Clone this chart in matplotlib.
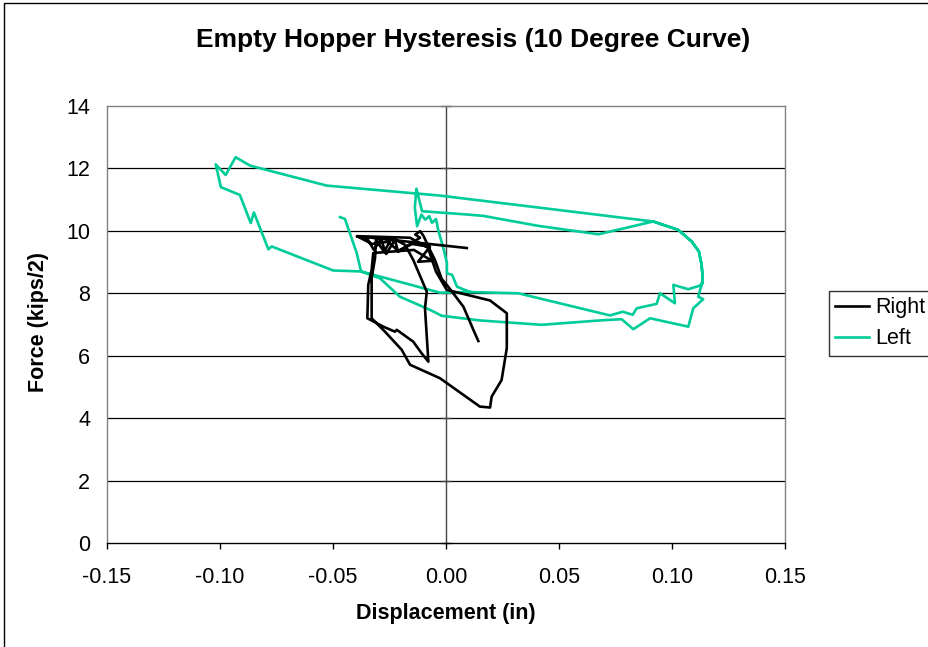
import numpy as np
import matplotlib
matplotlib.use("Agg")
import matplotlib.pyplot as plt
from matplotlib.patches import Rectangle

plt.rcParams['font.family'] = ['Liberation Sans', 'DejaVu Sans']

# right side sensor (displacement in, force kips/2)
right_disp = np.array([
    0.0143, 0.0121, 0.0077, 0.0010, -0.0019, -0.0049,
    -0.0071, -0.0099, -0.0114, -0.0136, -0.0115, -0.0212, -0.0226, -0.0265,
    -0.0288, -0.0319, -0.0345, -0.0394, -0.0327, -0.0257, -0.0212, -0.0150,
    -0.0071, -0.0124, -0.0062, -0.0142, -0.0322,
    -0.0329, -0.0344, -0.0348, -0.0277, -0.0226, -0.0218, -0.0145, -0.0108,
    -0.0078, -0.0093, -0.0085, -0.0145,
    -0.0181, -0.0239, -0.0274, -0.0310, -0.0314,
    -0.0329, -0.0329, -0.0270, -0.0196, -0.0159, -0.0027, 0.0150, 0.0195,
    0.0202, 0.0246, 0.0269, 0.0269, 0.0195, 0.0003, -0.0044, -0.0080,
    -0.0159, -0.0394, 0.0092])
right_force = np.array([
    6.47, 6.83, 7.57, 8.21, 8.46, 9.07,
    9.39, 9.83, 9.99, 9.88, 9.78, 9.33, 9.71, 9.26,
    9.74, 9.39, 9.71, 9.83, 9.58, 9.65, 9.36, 9.58,
    9.49, 9.01, 9.04, 9.39, 9.29,
    8.75, 8.27, 7.20, 6.93, 6.77, 6.83, 6.45, 6.08,
    5.81, 7.52, 8.05, 9.07,
    9.55, 9.78, 9.33, 9.71, 9.13,
    8.48, 7.20, 6.77, 6.19, 5.71, 5.28, 4.37, 4.34,
    4.69, 5.22, 6.24, 7.36, 7.77, 8.11, 8.69, 9.46,
    9.78, 9.83, 9.45])

# left side sensor
left_disp = np.array([
    -0.0469, -0.0447, -0.0395, -0.0376, -0.0292, -0.0204, -0.0071, -0.0019,
    0.0150, 0.0423, 0.0681, 0.0777, 0.0829, 0.0903, 0.1072, 0.1094,
    0.1138, 0.1116, 0.1131, 0.1136, 0.1131, 0.1119, 0.1087, 0.1028,
    0.0917, 0.0674, 0.0408, 0.0165, 0.0100, -0.0106, -0.0131, -0.0138,
    -0.0128, -0.0109, -0.0092, -0.0074, -0.0062, -0.0044, -0.0035, -0.0010,
    0.0004, 0.0004, 0.0027, 0.0049, 0.0106, 0.0320, 0.0726, 0.0782,
    0.0826, 0.0844, 0.0932, 0.0947, 0.1013, 0.1006, 0.1072, 0.1121,
    0.1136, 0.1136, 0.1131, 0.1119, 0.1087, 0.1028, 0.0917, -0.0027,
    -0.0403, -0.0528, -0.0867, -0.0931, -0.0975, -0.1019, -0.0996, -0.0912,
    -0.0864, -0.0850, -0.0786, -0.0771, -0.0499, -0.0376, -0.0027, 0.0106])
left_force = np.array([
    10.44, 10.38, 9.29, 8.70, 8.48, 7.89, 7.47, 7.28,
    7.13, 6.99, 7.13, 7.17, 6.85, 7.20, 6.93, 7.52,
    7.81, 7.89, 8.27, 8.48, 8.91, 9.34, 9.66, 10.03,
    10.30, 9.89, 10.16, 10.48, 10.52, 10.63, 11.35, 10.74,
    10.15, 10.52, 10.36, 10.47, 10.26, 10.38, 10.04, 9.40,
    8.97, 8.64, 8.59, 8.21, 8.04, 8.00, 7.29, 7.41,
    7.31, 7.52, 7.66, 8.00, 7.68, 8.27, 8.13, 8.24,
    8.32, 8.48, 8.91, 9.34, 9.66, 10.03, 10.30, 11.13,
    11.37, 11.45, 12.09, 12.36, 11.79, 12.13, 11.40, 11.15,
    10.25, 10.59, 9.41, 9.50, 8.73, 8.70, 8.02, 8.04])

xticks = [-0.15, -0.10, -0.05, 0.00, 0.05, 0.10, 0.15]
yticks = [0, 2, 4, 6, 8, 10, 12, 14]

fig = plt.figure(figsize=(9.29, 6.47), dpi=100)
ax = fig.add_axes([107/929, 104/647, 678/929, 437/647])

for y in yticks[1:-1]:
    ax.axhline(y, color='black', lw=0.9, zorder=1)
ax.axvline(0, color='#444444', lw=1.0, zorder=1)
ax.plot(np.zeros(len(yticks)), yticks, ls='none', marker='_', ms=7,
        mew=1.0, color='#444444', zorder=1, clip_on=False)

ax.plot(right_disp, right_force, color='black', lw=1.9, label='Right', zorder=3)
ax.plot(left_disp, left_force, color='#00CC99', lw=1.9, label='Left', zorder=2)

ax.set_xlim(-0.15, 0.15)
ax.set_ylim(0, 14)
ax.set_xticks(xticks)
ax.set_xticklabels(['%.2f' % v for v in xticks])
ax.set_yticks(yticks)
ax.tick_params(axis='x', direction='out', length=4.5, width=1, labelsize=15.5, pad=13)
ax.tick_params(axis='y', length=0, labelsize=15.5, pad=12)

for side in ['top', 'right', 'left']:
    ax.spines[side].set_color('#808080')
    ax.spines[side].set_linewidth(1.0)
ax.spines['bottom'].set_color('black')
ax.spines['bottom'].set_linewidth(1.0)

fig.text(473/929, 1 - 40/647, 'Empty Hopper Hysteresis (10 Degree Curve)',
         fontsize=19, fontweight='bold', ha='center', va='center')
fig.text(446/929, 1 - 614/647, 'Displacement (in)', fontsize=15.5,
         fontweight='bold', ha='center', va='center')
fig.text(39/929, 1 - 322/647, 'Force (kips/2)', fontsize=15.5,
         fontweight='bold', ha='center', va='center', rotation=90)

leg = fig.legend(loc='upper left', bbox_to_anchor=(829/929, 1 - 291/647),
                 fontsize=15.5, frameon=True, fancybox=False, handlelength=1.55,
                 handletextpad=0.3, borderpad=0.3, labelspacing=0.45,
                 borderaxespad=0)
leg.get_frame().set_edgecolor('black')
leg.get_frame().set_linewidth(1.0)

# chart area border
fig.patches.append(Rectangle((4/929, -0.01), 1.0, 1 - 3/647 + 0.01, fill=False,
                             edgecolor='black', lw=1.0,
                             transform=fig.transFigure, figure=fig))

fig.savefig('out.png', dpi=100)
